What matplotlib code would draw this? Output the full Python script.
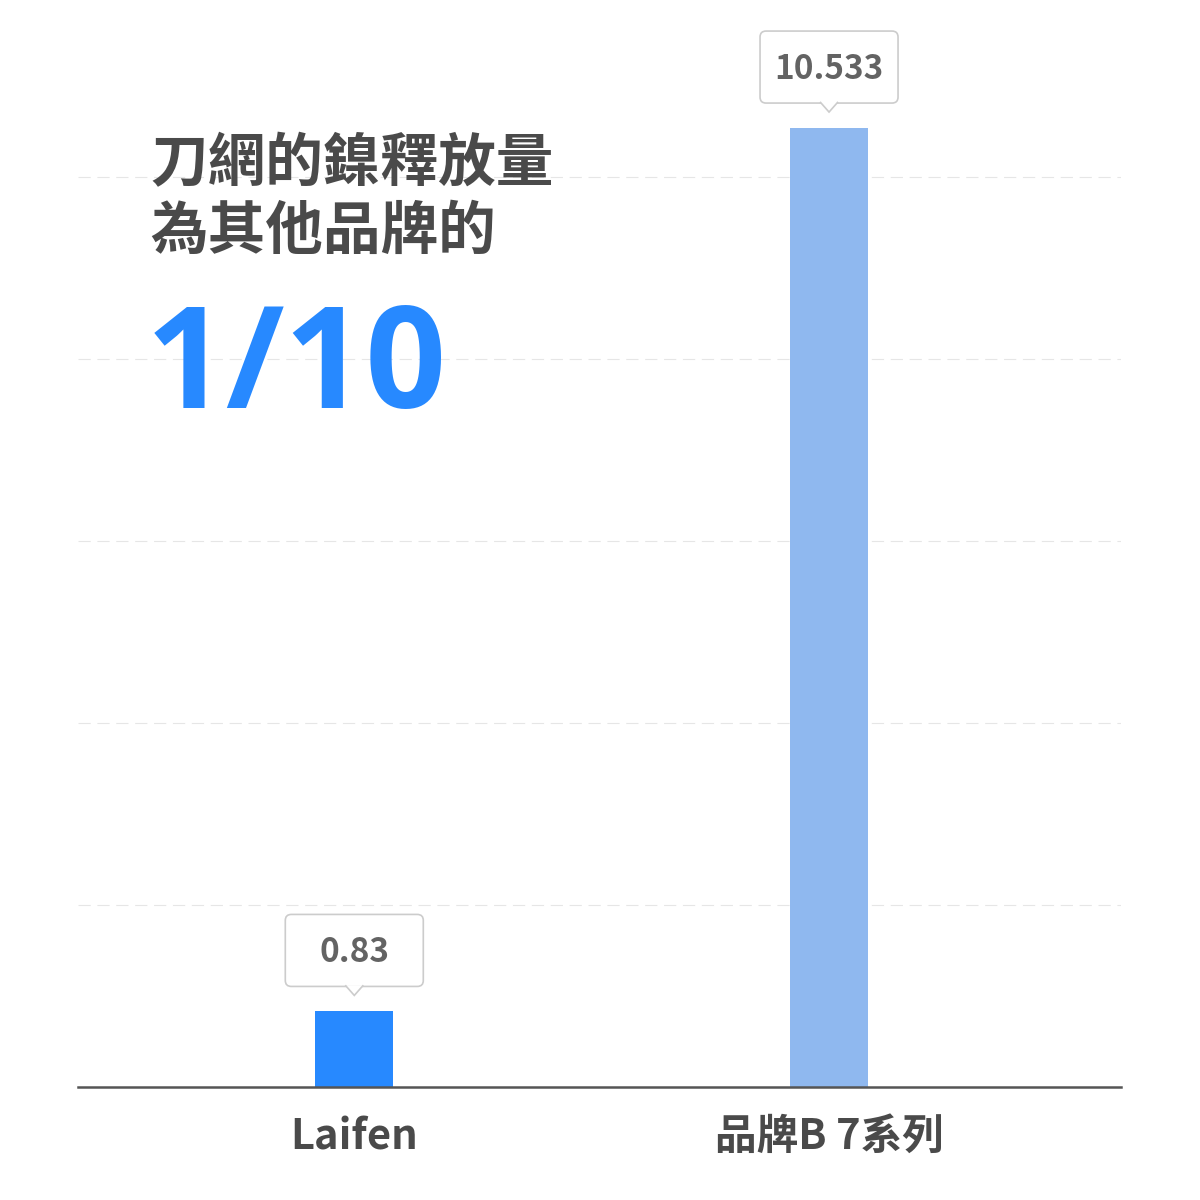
import matplotlib
matplotlib.use("Agg")
import matplotlib.pyplot as plt
from matplotlib.patches import FancyBboxPatch, Polygon
from matplotlib.transforms import ScaledTranslation

categories = ["Laifen", "品牌B 7系列"]
values = [0.83, 10.533]
value_labels = ["0.83", "10.533"]
bar_colors = ["#2789ff", "#8fb8ef"]
grid_ticks = [2, 4, 6, 8, 10]
title_lines = ["刀網的鎳釋放量", "為其他品牌的"]
headline = "1/10"

plt.rcParams["font.family"] = ["Noto Sans CJK TC", "DejaVu Sans"]

W = 1200.0
fig = plt.figure(figsize=(12, 12), dpi=100)
ax = fig.add_axes([78 / W, 113 / W, 1043 / W, 1067 / W])

x = list(range(len(categories)))
ax.bar(x, values, width=0.164, color=bar_colors, zorder=2)
ax.set_xlim(-0.582, 1.615)
ax.set_ylim(0, 11.72)

# light dashed grid
for t in grid_ticks:
    ax.axhline(t, color="#e6e6e6", lw=0.8, ls=(0, (11, 6)), zorder=1)

for s in ["top", "right", "left"]:
    ax.spines[s].set_visible(False)
ax.spines["bottom"].set_color("#555555")
ax.spines["bottom"].set_linewidth(1.8)
ax.set_yticks([])
ax.set_xticks(x)
ax.set_xticklabels(categories, fontsize=30, color="#4a4a4a", weight="bold")
ax.tick_params(axis="x", length=0, pad=21)

# value callouts (fixed size in inches, anchored on bar top)
for xi, v, lab in zip(x, values, value_labels):
    tr = fig.dpi_scale_trans + ScaledTranslation(xi, v, ax.transData)
    box = FancyBboxPatch((-0.69, 0.25), 1.38, 0.72,
                         boxstyle="round,pad=0,rounding_size=0.06",
                         fc="white", ec="#cccccc", lw=1.2,
                         transform=tr, clip_on=False, zorder=3)
    ax.add_patch(box)
    tip = Polygon([(-0.09, 0.262), (0, 0.16), (0.09, 0.262)], closed=False,
                  fc="white", ec="#cccccc", lw=1.2,
                  transform=tr, clip_on=False, zorder=4)
    ax.add_patch(tip)
    ax.text(0, 0.49, lab, transform=tr, ha="center", va="baseline",
            fontsize=24, color="#636363", weight="bold", zorder=5)

# headline text
fig.text(150 / W, 1 - 164 / W, title_lines[0], fontsize=41.5, weight="bold",
         color="#4a4a4a", va="center", ha="left")
fig.text(150 / W, 1 - 232 / W, title_lines[1], fontsize=41.5, weight="bold",
         color="#4a4a4a", va="center", ha="left")
fig.text(146 / W, 1 - 408 / W, headline, fontsize=102, weight="bold",
         color="#2789ff", va="baseline", ha="left", family="Open Sans")

fig.savefig("out.png", dpi=100)
